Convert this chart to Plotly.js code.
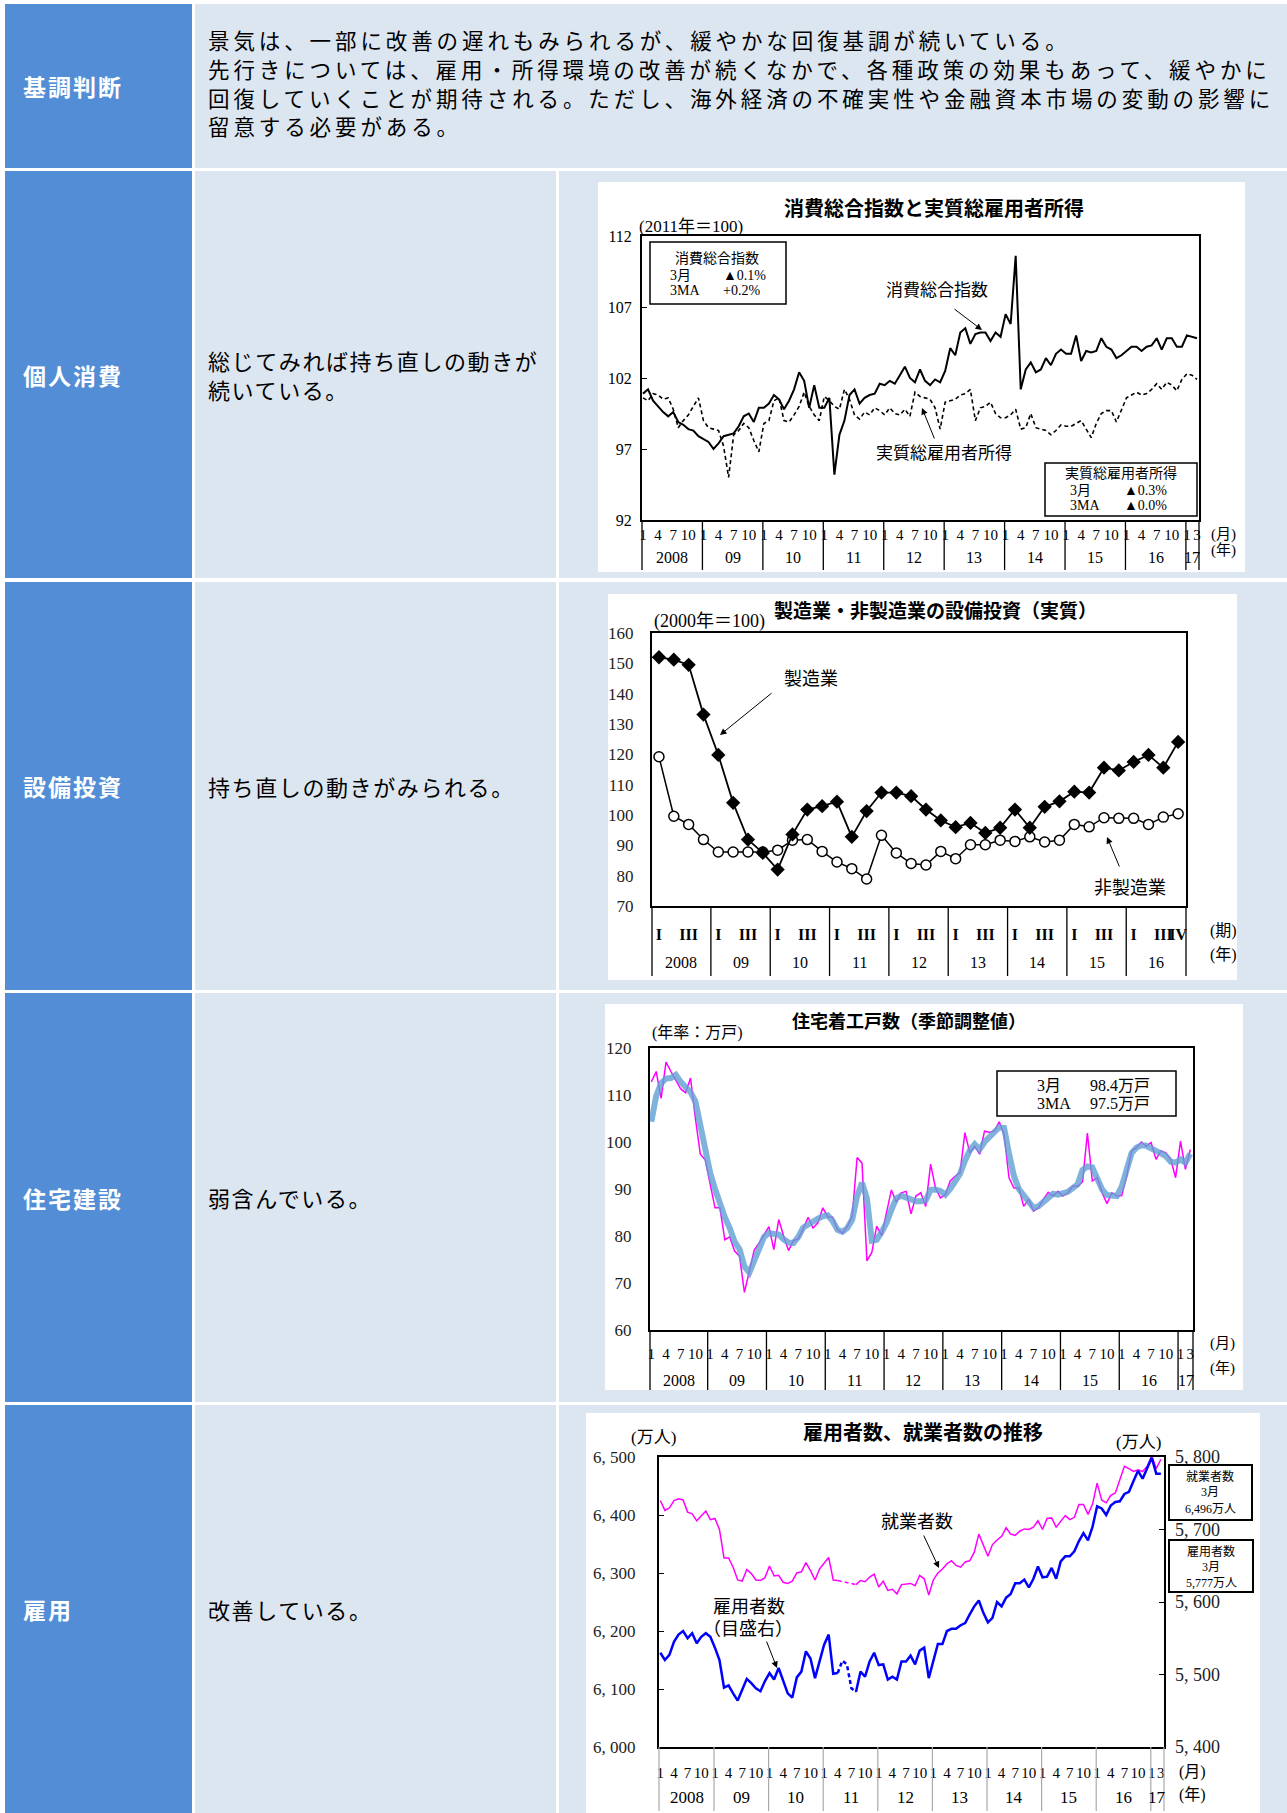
<!DOCTYPE html>
<html><head><meta charset="utf-8">
<script src="https://cdn.plot.ly/plotly-3.0.1.min.js"></script>
<style>
html,body{margin:0;padding:0;background:#fff;}
body{width:1287px;height:1813px;position:relative;overflow:hidden;font-family:"Noto Sans CJK JP",sans-serif;}
.c{position:absolute;display:flex;align-items:center;box-sizing:border-box;}
.h{background:#538DD5;color:#fff;font-weight:700;font-size:23px;letter-spacing:2px;padding-left:18px;}
.b{background:#DCE6F1;color:#000;font-size:22px;letter-spacing:1.6px;line-height:29px;padding-left:13px;white-space:nowrap;}
.ln{position:absolute;left:208px;height:28.8px;line-height:28.8px;font-size:21.5px;letter-spacing:3.9px;white-space:nowrap;color:#000;overflow:visible;}
.chart{position:absolute;background:#fff;}
</style></head><body>
<div class="c h" style="left:5px;top:4px;width:187px;height:164px;">基調判断</div>
<div class="c b" style="left:195px;top:4px;width:1092px;height:164px;"></div>
<div class="ln" style="top:26px;">景気は、一部に改善の遅れもみられるが、緩やかな回復基調が続いている。</div>
<div class="ln" style="top:55px;">先行きについては、雇用・所得環境の改善が続くなかで、各種政策の効果もあって、緩やかに</div>
<div class="ln" style="top:84px;">回復していくことが期待される。ただし、海外経済の不確実性や金融資本市場の変動の影響に</div>
<div class="ln" style="top:112px;">留意する必要がある。</div>

<div class="c h" style="left:5px;top:171px;width:187px;height:407px;">個人消費</div>
<div class="c b" style="left:195px;top:171px;width:361px;height:407px;"><div>総じてみれば持ち直しの動きが<br>続いている。</div></div>
<div class="c b" style="left:559px;top:171px;width:728px;height:407px;"></div>

<div class="c h" style="left:5px;top:582px;width:187px;height:408px;">設備投資</div>
<div class="c b" style="left:195px;top:582px;width:361px;height:408px;"><div>持ち直しの動きがみられる。</div></div>
<div class="c b" style="left:559px;top:582px;width:728px;height:408px;"></div>

<div class="c h" style="left:5px;top:993px;width:187px;height:409px;">住宅建設</div>
<div class="c b" style="left:195px;top:993px;width:361px;height:409px;"><div>弱含んでいる。</div></div>
<div class="c b" style="left:559px;top:993px;width:728px;height:409px;"></div>

<div class="c h" style="left:5px;top:1405px;width:187px;height:408px;">雇用</div>
<div class="c b" style="left:195px;top:1405px;width:361px;height:408px;"><div>改善している。</div></div>
<div class="c b" style="left:559px;top:1405px;width:728px;height:408px;"></div>

<div id="ch1" class="chart"></div>
<div id="ch2" class="chart"></div>
<div id="ch3" class="chart"></div>
<div id="ch4" class="chart"></div>

<script>
// ---------- shared tick labels ----------
const monthTickLabels = ['1','4','7','10'];
const monthTickMonths = [0,3,6,9];
const lastYearTickLabels = ['1','3'];
const lastYearTickMonths = [0,2];
const yearLabels = ['2008','09','10','11','12','13','14','15','16','17'];

const qTickLabels = ['I','III'];
const qTickQuarters = [0,2];
const qLastTickLabels = ['I','III','IV'];
const qLastTickQuarters = [0,2,3];
const qYearLabels = ['2008','09','10','11','12','13','14','15','16'];

// ---------- chart 1: 消費総合指数 / 実質総雇用者所得 (monthly, 2008/1 - 2017/3) ----------
const c1Consumption = [
 100.9,101.2,100.4,100.0,99.6,99.3,99.6,98.9,98.7,98.4,98.3,97.9,
 97.7,97.5,97.0,97.4,97.9,98.0,98.1,98.6,99.3,99.5,98.9,99.9,
 99.9,100.2,100.8,100.5,99.8,100.4,101.2,102.4,101.8,99.9,101.5,99.9,
 99.9,100.6,95.2,98.0,99.0,100.8,101.2,100.2,100.6,100.8,100.9,101.6,
 101.5,101.8,101.6,102.2,102.8,102.0,101.7,102.6,101.8,101.5,101.9,101.7,
 102.5,104.1,103.6,105.2,105.5,104.4,105.1,105.2,105.2,104.6,105.2,104.9,
 106.5,105.8,110.6,101.2,102.6,103.1,102.4,102.6,103.4,102.9,103.7,104.0,
 103.7,103.7,105.0,103.2,103.9,103.8,103.9,104.8,104.2,104.0,103.4,103.6,
 103.9,104.2,104.2,103.9,104.2,104.3,104.8,104.0,104.8,104.8,104.2,104.2,
 105.0,104.9,104.8];
const c1Income = [
 100.6,100.4,100.9,100.8,100.5,100.6,99.8,98.5,99.0,99.4,100.0,100.6,
 99.0,98.5,98.4,98.3,97.2,95.0,98.0,98.3,98.8,98.5,97.6,96.8,
 98.8,99.0,100.4,100.6,99.0,98.9,99.4,100.0,101.0,100.0,99.4,99.0,
 100.7,100.4,100.0,99.8,101.2,100.5,99.4,99.1,99.6,99.4,99.9,99.7,
 99.4,99.9,99.5,99.4,99.8,99.3,101.0,100.7,100.6,100.5,99.9,98.4,
 100.3,100.4,100.5,100.8,100.9,101.2,99.0,99.9,100.0,100.3,99.5,99.2,
 99.2,99.4,99.8,98.4,98.5,99.5,98.5,98.4,98.3,98.0,98.3,98.7,
 98.6,98.6,98.8,99.0,98.4,97.8,98.8,99.5,99.7,99.7,98.9,99.7,
 100.6,100.8,101.0,100.8,100.9,101.2,101.6,101.2,101.7,101.5,101.1,101.9,
 102.3,102.2,101.9];
const c1YTicks = [92,97,102,107,112];

// ---------- chart 2: 設備投資 (quarterly, 2008Q1 - 2016Q4) ----------
const c2Manufacturing = [152.0,151.2,149.5,133.1,119.8,104.0,91.9,87.5,82.0,93.6,101.8,102.9,
 104.4,92.8,101.3,107.4,107.4,106.2,101.8,98.2,96.0,97.4,94.1,95.8,
 101.8,95.8,102.7,104.5,107.7,107.4,115.6,114.7,117.5,119.8,115.6,124.1];
const c2NonManufacturing = [119.2,99.6,96.9,91.9,87.8,87.8,87.8,87.8,88.4,91.7,91.9,88.0,
 84.5,82.3,78.9,93.3,87.5,84.0,83.5,88.0,85.6,90.2,90.2,91.7,
 91.3,92.8,91.1,91.7,96.9,96.1,99.1,98.9,98.9,96.9,99.3,100.4];
const c2YTicks = [70,80,90,100,110,120,130,140,150,160];

// ---------- chart 3: 住宅着工戸数 (monthly) ----------
const c3Monthly = [
 112.8,115.0,109.3,117.0,115.0,113.0,111.3,110.5,113.6,105.0,97.4,96.2,
 91.0,86.0,86.0,79.2,79.8,76.8,75.7,68.0,72.5,77.0,78.5,80.3,
 82.0,77.1,83.5,80.0,76.9,79.0,79.4,81.5,84.0,81.7,82.8,86.0,
 84.1,84.0,81.4,80.6,82.0,84.2,96.7,95.5,74.7,76.5,82.1,80.1,
 84.9,89.8,87.2,89.2,89.5,84.7,88.5,89.2,86.3,95.3,90.2,88.1,
 88.8,91.7,92.7,93.5,102.0,97.7,99.1,97.4,102.3,102.1,102.3,104.3,
 101.6,92.4,90.2,90.2,86.3,87.8,85.3,86.0,87.8,89.3,88.5,89.5,
 88.5,89.2,90.6,90.6,91.5,101.9,91.7,92.4,89.2,86.9,89.2,88.5,
 88.6,92.7,98.1,98.8,100.0,99.1,99.9,96.3,98.1,97.7,96.3,92.4,
 100.2,94.2,98.4];
const c3MA3 = [
 104.3,109.8,112.5,113.5,113.6,114.3,112.8,111.5,110.6,108.6,103.8,98.0,
 93.5,90.0,86.5,84.0,81.7,78.8,77.2,73.5,72.2,74.8,77.5,79.8,
 80.6,80.6,80.3,79.3,78.6,78.5,79.8,81.8,82.5,83.1,83.7,84.2,
 84.4,83.2,81.3,80.9,81.7,83.5,88.5,91.3,88.0,79.0,79.2,80.8,
 82.8,85.6,88.0,88.6,88.2,87.7,87.4,87.4,87.6,89.8,89.9,89.6,
 88.8,90.0,91.5,93.2,96.0,98.2,99.5,98.4,100.0,101.2,102.1,103.1,
 103.0,97.5,92.8,90.0,88.5,87.1,86.0,86.3,87.3,88.3,89.0,88.8,
 89.0,89.4,90.2,91.0,94.0,94.8,94.6,91.8,89.9,88.7,88.5,88.5,
 90.5,94.4,97.6,98.8,99.3,99.2,98.5,98.1,97.6,97.0,95.8,95.6,
 96.3,95.6,97.5];
const c3YTicks = [60,70,80,90,100,110,120];

// ---------- chart 4: 就業者数 (left) / 雇用者数 (right), 万人 ----------
const c4Workers = [
 6425,6408,6412,6425,6428,6426,6405,6402,6390,6398,6407,6392,
 6394,6375,6326,6326,6310,6288,6286,6306,6299,6288,6287,6292,
 6312,6295,6296,6284,6282,6286,6300,6302,6318,6304,6288,6307,
 6318,6327,6288,6287,6285,6283,6281,6280,6287,6285,6293,6298,
 6276,6286,6270,6272,6264,6280,6281,6282,6278,6296,6290,6262,
 6288,6300,6307,6316,6321,6313,6310,6319,6321,6336,6367,6349,
 6329,6349,6357,6363,6378,6367,6365,6372,6376,6375,6379,6390,
 6375,6394,6395,6379,6390,6399,6392,6396,6418,6418,6401,6419,
 6455,6426,6421,6434,6438,6461,6484,6480,6475,6478,6475,6484,
 6502,6480,6496];
const c4Employees = [
 5530,5520,5527,5545,5555,5560,5550,5557,5543,5552,5557,5552,
 5537,5520,5482,5485,5474,5464,5479,5494,5488,5481,5477,5491,
 5502,5493,5509,5491,5474,5468,5496,5504,5532,5522,5495,5518,
 5541,5555,5501,5502,5519,5514,5481,5476,5504,5497,5518,5530,
 5513,5514,5493,5497,5493,5518,5518,5526,5514,5533,5537,5495,
 5518,5542,5542,5560,5563,5563,5568,5571,5583,5594,5602,5585,
 5572,5578,5600,5594,5606,5611,5626,5626,5631,5620,5632,5649,
 5634,5635,5647,5632,5656,5663,5663,5670,5684,5695,5685,5704,
 5732,5729,5720,5733,5738,5739,5749,5752,5767,5781,5770,5785,
 5799,5777,5777];
const c4LeftTicks = [6000,6100,6200,6300,6400,6500];
const c4LeftTickText = ['6, 000','6, 100','6, 200','6, 300','6, 400','6, 500'];
const c4RightTicks = [5400,5500,5600,5700,5800];
const c4RightTickText = ['5, 400','5, 500','5, 600','5, 700','5, 800'];
const c4DashFrom = 39, c4DashTo = 43; // 2011/4 - 2011/8 補完推計

// ---------- helpers ----------
const SERIF = '"Liberation Serif", "Noto Sans CJK JP", serif';
const GOTH = '"Noto Sans CJK JP", sans-serif';
const CFG = {staticPlot:true, displayModeBar:false};

function geo(frame, box){
  const W = frame.r - frame.l, H = frame.b - frame.t;
  return {
    px: x => (x - frame.l) / W,
    py: y => (frame.b - y) / H,
    margin: {l: frame.l - box.x, r: box.x + box.w - frame.r, t: frame.t - box.y, b: box.y + box.h - frame.b, pad: 0}
  };
}
function place(id, box){
  const el = document.getElementById(id);
  el.style.left = box.x + 'px'; el.style.top = box.y + 'px';
  el.style.width = box.w + 'px'; el.style.height = box.h + 'px';
}
function txt(g, x, y, text, size, extra){
  return Object.assign({xref:'paper', yref:'paper', x:g.px(x), y:g.py(y), text:text, showarrow:false,
    font:{size:size, color:'#000'}, xanchor:'center', yanchor:'middle'}, extra || {});
}
function arrow(g, tx, ty, hx, hy){
  return {xref:'paper', yref:'paper', x:g.px(hx), y:g.py(hy), ax:tx-hx, ay:ty-hy, axref:'pixel', ayref:'pixel',
    text:'', showarrow:true, arrowhead:2, arrowsize:1.3, arrowwidth:1, arrowcolor:'#000'};
}
function rect(g, x0, y0, x1, y1, w){
  return {type:'rect', xref:'paper', yref:'paper', x0:g.px(x0), x1:g.px(x1), y0:g.py(y1), y1:g.py(y0),
    line:{color:'#000', width:w}, fillcolor:'#fff', layer:'above'};
}
function monthlyAxis(lo, hi, shift){
  const tickvals = [], ticktext = [], seps = [], yearPos = [];
  const last = yearLabels.length - 1;
  yearLabels.forEach((lab, y) => {
    const ms = y === last ? lastYearTickMonths : monthTickMonths;
    const ls = y === last ? lastYearTickLabels : monthTickLabels;
    ms.forEach((m, k) => { tickvals.push(12*y + m); ticktext.push(ls[k]); });
    if (y > 0) seps.push(12*y + shift);
  });
  const b = [lo].concat(seps, [hi]);
  for (let y = 0; y <= last; y++) yearPos.push((b[y] + b[y+1]) / 2);
  return {tickvals, ticktext, seps, yearPos};
}
function quarterlyAxis(lo, hi, shift){
  const tickvals = [], ticktext = [], seps = [], yearPos = [];
  const last = qYearLabels.length - 1;
  qYearLabels.forEach((lab, y) => {
    const qs = y === last ? qLastTickQuarters : qTickQuarters;
    const ls = y === last ? qLastTickLabels : qTickLabels;
    qs.forEach((q, k) => { tickvals.push(4*y + q); ticktext.push(ls[k]); });
    if (y > 0) seps.push(4*y + shift);
  });
  const b = [lo].concat(seps, [hi]);
  for (let y = 0; y <= last; y++) yearPos.push((b[y] + b[y+1]) / 2);
  return {tickvals, ticktext, seps, yearPos};
}
function sepShapes(g, seps, bottomY, color, w){
  const y1 = g.py(bottomY);
  const out = seps.map(s => ({type:'line', xref:'x', yref:'paper', x0:s, x1:s, y0:0, y1:y1, line:{color:color, width:w}}));
  out.push({type:'line', xref:'paper', yref:'paper', x0:0, x1:0, y0:0, y1:y1, line:{color:color, width:w}});
  out.push({type:'line', xref:'paper', yref:'paper', x0:1, x1:1, y0:0, y1:y1, line:{color:color, width:w}});
  return out;
}
function yearAnns(g, pos, labels, y, size, extra){
  return labels.map((l, i) => Object.assign({xref:'x', yref:'paper', x:pos[i], y:g.py(y), text:l, showarrow:false,
    font:{size:size, color:'#000'}, xanchor:'center', yanchor:'middle'}, extra || {}));
}
function baseAxis(){
  return {showgrid:false, zeroline:false, showline:true, mirror:true, linecolor:'#000', linewidth:2, fixedrange:true};
}

// ---------- chart 1 ----------
(function(){
  const box = {x:598, y:182, w:647, h:390};
  const frame = {l:642, t:236, r:1199, b:520};
  place('ch1', box);
  const g = geo(frame, box);
  const lo = -0.2, hi = 110.4;
  const ax = monthlyAxis(lo, hi, -0.2);
  const xs = c1Consumption.map((v, i) => i);
  const traces = [
    {x:xs, y:c1Income, type:'scatter', mode:'lines', line:{color:'#000', width:1.6, dash:'4px,3px'}},
    {x:xs, y:c1Consumption, type:'scatter', mode:'lines', line:{color:'#000', width:2}}
  ];
  const layout = {
    width:box.w, height:box.h, margin:g.margin, paper_bgcolor:'#fff', plot_bgcolor:'#fff', showlegend:false,
    font:{family:SERIF, size:15, color:'#000'},
    xaxis:Object.assign(baseAxis(), {range:[lo,hi], tickmode:'array', tickvals:ax.tickvals, ticktext:ax.ticktext,
      tickangle:0, ticks:'', tickfont:{size:15}, ticklabelstandoff:0}),
    yaxis:Object.assign(baseAxis(), {range:[92,112], tickmode:'array', tickvals:c1YTicks, ticks:'inside', ticklen:5,
      tickcolor:'#000', tickfont:{size:16}, ticklabelstandoff:5}),
    shapes: sepShapes(g, ax.seps, 570, '#000', 1.3).concat([
      rect(g, 650, 242, 786, 304, 1.5),
      rect(g, 1045, 463, 1197, 516, 1.5)
    ]),
    annotations: yearAnns(g, ax.yearPos, yearLabels, 557, 16).concat([
      txt(g, 934, 208, '<b>消費総合指数と実質総雇用者所得</b>', 20, {font:{family:GOTH, size:20, color:'#000'}}),
      txt(g, 637, 227, '(2011年＝100)', 17, {xanchor:'left'}),
      txt(g, 717, 258, '消費総合指数', 14),
      txt(g, 668, 275, '3月', 14, {xanchor:'left'}),
      txt(g, 721, 275, '▲0.1%', 14, {xanchor:'left'}),
      txt(g, 668, 290, '3MA', 14, {xanchor:'left'}),
      txt(g, 721, 290, '+0.2%', 14, {xanchor:'left'}),
      txt(g, 1121, 473, '実質総雇用者所得', 14),
      txt(g, 1068, 490, '3月', 14, {xanchor:'left'}),
      txt(g, 1122, 490, '▲0.3%', 14, {xanchor:'left'}),
      txt(g, 1068, 505, '3MA', 14, {xanchor:'left'}),
      txt(g, 1122, 505, '▲0.0%', 14, {xanchor:'left'}),
      txt(g, 937, 290, '消費総合指数', 17),
      arrow(g, 953, 308, 982, 330),
      txt(g, 944, 453, '実質総雇用者所得', 17),
      arrow(g, 935, 440, 922, 408),
      txt(g, 1223, 534, '(月)', 15),
      txt(g, 1223, 550, '(年)', 15)
    ])
  };
  Plotly.newPlot('ch1', traces, layout, CFG);
})();

// ---------- chart 2 ----------
(function(){
  const box = {x:608, y:594, w:629, h:386};
  const frame = {l:652, t:633, r:1186, b:906};
  place('ch2', box);
  const g = geo(frame, box);
  const lo = -0.47, hi = 35.53;
  const ax = quarterlyAxis(lo, hi, -0.5);
  const xs = c2Manufacturing.map((v, i) => i);
  const traces = [
    {x:xs, y:c2NonManufacturing, type:'scatter', mode:'lines+markers', line:{color:'#000', width:1.5},
      marker:{symbol:'circle', size:10, color:'#fff', line:{color:'#000', width:1.5}}},
    {x:xs, y:c2Manufacturing, type:'scatter', mode:'lines+markers', line:{color:'#000', width:1.8},
      marker:{symbol:'diamond', size:11, color:'#000'}}
  ];
  const layout = {
    width:box.w, height:box.h, margin:g.margin, paper_bgcolor:'#fff', plot_bgcolor:'#fff', showlegend:false,
    font:{family:SERIF, size:16, color:'#000'},
    xaxis:Object.assign(baseAxis(), {range:[lo,hi], tickmode:'array', tickvals:ax.tickvals, ticktext:ax.ticktext,
      tickangle:0, ticks:'', tickfont:{size:16, weight:'bold'}, ticklabelstandoff:13}),
    yaxis:Object.assign(baseAxis(), {range:[70,160], tickmode:'array', tickvals:c2YTicks, ticks:'',
      tickfont:{size:17, color:'#222'}, ticklabelstandoff:13}),
    shapes: sepShapes(g, ax.seps, 976, '#000', 1.3),
    annotations: yearAnns(g, ax.yearPos, qYearLabels, 962, 16).concat([
      txt(g, 935, 609, '<b>製造業・非製造業の設備投資（実質）</b>', 19, {font:{family:GOTH, size:19, color:'#000'}}),
      txt(g, 652, 622, '(2000年＝100)', 18, {xanchor:'left'}),
      txt(g, 811, 679, '製造業', 18),
      arrow(g, 773, 692, 720, 735),
      txt(g, 1130, 888, '非製造業', 18),
      arrow(g, 1120, 868, 1107, 837),
      txt(g, 1223, 931, '(期)', 16),
      txt(g, 1223, 955, '(年)', 16)
    ])
  };
  Plotly.newPlot('ch2', traces, layout, CFG);
})();

// ---------- chart 3 ----------
(function(){
  const box = {x:605, y:1004, w:638, h:386};
  const frame = {l:650, t:1048, r:1193, b:1330};
  place('ch3', box);
  const g = geo(frame, box);
  const lo = -0.27, hi = 110.55;
  const ax = monthlyAxis(lo, hi, -0.5);
  const xs = c3Monthly.map((v, i) => i);
  const traces = [
    {x:xs, y:c3Monthly, type:'scatter', mode:'lines', line:{color:'#FF00FF', width:1.5}},
    {x:xs, y:c3MA3, type:'scatter', mode:'lines', line:{color:'rgba(95,160,210,0.8)', width:6}}
  ];
  const layout = {
    width:box.w, height:box.h, margin:g.margin, paper_bgcolor:'#fff', plot_bgcolor:'#fff', showlegend:false,
    font:{family:SERIF, size:15, color:'#000'},
    xaxis:Object.assign(baseAxis(), {range:[lo,hi], tickmode:'array', tickvals:ax.tickvals, ticktext:ax.ticktext,
      tickangle:0, ticks:'', tickfont:{size:15}, ticklabelstandoff:9}),
    yaxis:Object.assign(baseAxis(), {range:[60,120], tickmode:'array', tickvals:c3YTicks, ticks:'',
      tickfont:{size:17, color:'#222'}, ticklabelstandoff:13}),
    shapes: sepShapes(g, ax.seps, 1390, '#000', 1.3).concat([rect(g, 997, 1071, 1176, 1116, 1.5)]),
    annotations: yearAnns(g, ax.yearPos, yearLabels, 1380, 16).concat([
      txt(g, 909, 1020, '<b>住宅着工戸数（季節調整値）</b>', 18, {font:{family:GOTH, size:18, color:'#000'}}),
      txt(g, 697, 1033, '(年率：万戸)', 16),
      txt(g, 1035, 1085, '3月', 16, {xanchor:'left'}),
      txt(g, 1088, 1085, '98.4万戸', 16, {xanchor:'left'}),
      txt(g, 1035, 1103, '3MA', 16, {xanchor:'left'}),
      txt(g, 1088, 1103, '97.5万戸', 16, {xanchor:'left'}),
      txt(g, 1222, 1343, '(月)', 15),
      txt(g, 1222, 1368, '(年)', 15)
    ])
  };
  Plotly.newPlot('ch3', traces, layout, CFG);
})();

// ---------- chart 4 ----------
(function(){
  const box = {x:586, y:1413, w:674, h:400};
  const frame = {l:659, t:1457, r:1164, b:1747};
  place('ch4', box);
  const g = geo(frame, box);
  const lo = -0.29, hi = 110.7;
  const ax = monthlyAxis(lo, hi, -0.2);
  const xs = c4Workers.map((v, i) => i);
  const solid = arr => arr.map((v, i) => (i > c4DashFrom && i < c4DashTo) ? null : v);
  const dashed = arr => arr.map((v, i) => (i >= c4DashFrom && i <= c4DashTo) ? v : null);
  const traces = [
    {x:xs, y:solid(c4Workers), type:'scatter', mode:'lines', line:{color:'#FF00FF', width:1.5}, yaxis:'y'},
    {x:xs, y:dashed(c4Workers), type:'scatter', mode:'lines', line:{color:'#FF00FF', width:1.5, dash:'4px,3px'}, yaxis:'y'},
    {x:xs, y:solid(c4Employees), type:'scatter', mode:'lines', line:{color:'#0000FF', width:2.5}, yaxis:'y2'},
    {x:xs, y:dashed(c4Employees), type:'scatter', mode:'lines', line:{color:'#0000FF', width:2.5, dash:'4px,3px'}, yaxis:'y2'}
  ];
  const layout = {
    width:box.w, height:box.h, margin:g.margin, paper_bgcolor:'#fff', plot_bgcolor:'#fff', showlegend:false,
    font:{family:SERIF, size:15, color:'#000'},
    xaxis:Object.assign(baseAxis(), {range:[lo,hi], tickmode:'array', tickvals:ax.tickvals, ticktext:ax.ticktext,
      tickangle:0, ticks:'', tickfont:{size:15}, ticklabelstandoff:11}),
    yaxis:Object.assign(baseAxis(), {range:[6000,6500], tickmode:'array', tickvals:c4LeftTicks, ticktext:c4LeftTickText,
      ticks:'inside', ticklen:5, tickcolor:'#000', tickfont:{size:17, color:'#222'}, ticklabelstandoff:18}),
    yaxis2:{overlaying:'y', side:'right', range:[5400,5800], tickmode:'array', tickvals:c4RightTicks, ticktext:c4RightTickText,
      showgrid:false, zeroline:false, showline:false, ticks:'inside', ticklen:5, tickcolor:'#000',
      tickfont:{size:18, color:'#222'}, ticklabelstandoff:10, fixedrange:true},
    shapes: sepShapes(g, ax.seps, 1811, '#aaa', 1.2).concat([
      rect(g, 1169, 1465, 1252, 1520, 2),
      rect(g, 1169, 1540, 1253, 1592, 2)
    ]),
    annotations: yearAnns(g, ax.yearPos, yearLabels, 1797, 17).concat([
      txt(g, 923, 1432, '<b>雇用者数、就業者数の推移</b>', 20, {font:{family:GOTH, size:20, color:'#000'}}),
      txt(g, 653, 1437, '(万人)', 17),
      txt(g, 1138, 1442, '(万人)', 17),
      txt(g, 1210, 1476, '就業者数', 12),
      txt(g, 1210, 1492, '3月', 12),
      txt(g, 1210, 1509, '6,496万人', 12),
      txt(g, 1211, 1551, '雇用者数', 12),
      txt(g, 1211, 1567, '3月', 12),
      txt(g, 1211, 1583, '5,777万人', 12),
      txt(g, 917, 1522, '就業者数', 18),
      arrow(g, 923, 1534, 939, 1568),
      txt(g, 749, 1607, '雇用者数', 18),
      txt(g, 748, 1629, '（目盛右）', 18),
      arrow(g, 766, 1640, 777, 1668),
      txt(g, 1192, 1772, '(月)', 16),
      txt(g, 1192, 1795, '(年)', 16)
    ])
  };
  Plotly.newPlot('ch4', traces, layout, CFG);
})();
</script>
</body></html>
